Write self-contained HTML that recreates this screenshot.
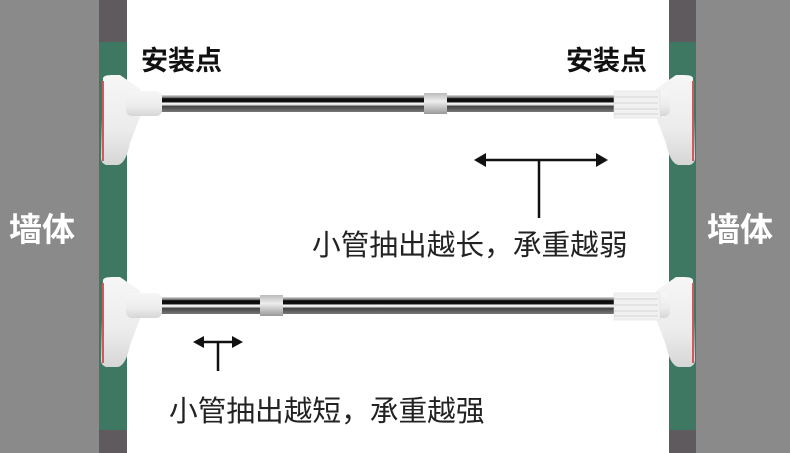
<!DOCTYPE html>
<html><head><meta charset="utf-8"><style>
html,body{margin:0;padding:0;background:#fff;}
svg{display:block}
text{font-family:"Liberation Sans","Noto Sans CJK SC",sans-serif;}
</style></head><body>
<svg width="790" height="453" viewBox="0 0 790 453" xmlns="http://www.w3.org/2000/svg">
<defs>
<linearGradient id="pipe" x1="0" y1="0" x2="0" y2="1">
<stop offset="0" stop-color="#e0e0e0"/><stop offset="0.15" stop-color="#777"/>
<stop offset="0.22" stop-color="#0a0a0a"/><stop offset="0.4" stop-color="#111"/>
<stop offset="0.48" stop-color="#fafafa"/><stop offset="0.58" stop-color="#ddd"/>
<stop offset="0.66" stop-color="#444"/><stop offset="1" stop-color="#777"/>
</linearGradient>
<linearGradient id="joint" x1="0" y1="0" x2="0" y2="1">
<stop offset="0" stop-color="#bbb"/><stop offset="0.4" stop-color="#eee"/><stop offset="1" stop-color="#999"/>
</linearGradient>
<linearGradient id="white" x1="0" y1="0" x2="0" y2="1">
<stop offset="0" stop-color="#f6f6f6"/><stop offset="0.6" stop-color="#ececec"/><stop offset="1" stop-color="#d6d6d6"/>
</linearGradient>
<g id="lfoot">
<path d="M103 -25 Q104 -28 112 -28 L120 -28 L140 -14 L140 14 L130 40 Q126 60 118 62 L106 62 Q101 60 101 55 Z" fill="url(#white)"/>
<path d="M102 -22 L104 -22 L104 58 L102 58 Z" fill="#d05a5a"/>
<rect x="126" y="-12" width="36" height="25" rx="6" fill="url(#white)"/>
</g>
</defs>
<rect x="0" y="0" width="99" height="453" fill="#8a8a8a"/>
<rect x="696" y="0" width="94" height="453" fill="#8a8a8a"/>
<rect x="99" y="0" width="28" height="453" fill="#3e7862"/>
<rect x="669" y="0" width="27" height="453" fill="#3e7862"/>
<rect x="99" y="0" width="28" height="42" fill="#5e5a5e"/>
<rect x="669" y="0" width="27" height="42" fill="#5e5a5e"/>
<rect x="99" y="430" width="28" height="23" fill="#5e5a5e"/>
<rect x="669" y="430" width="27" height="23" fill="#5e5a5e"/>

<rect x="158" y="95" width="460" height="17" fill="url(#pipe)"/>
<rect x="424" y="93" width="23" height="21" fill="url(#joint)"/>
<use href="#lfoot" transform="translate(0,103)"/>
<g transform="translate(796,103) scale(-1,1)"><use href="#lfoot"/></g>
<rect x="614" y="91" width="46" height="27" fill="#f1f1f1" stroke="#ddd" stroke-width="0.5"/>
<g stroke="#d4d4d4" stroke-width="1"><line x1="614" y1="97" x2="658" y2="97"/><line x1="614" y1="103" x2="658" y2="103"/><line x1="614" y1="109" x2="658" y2="109"/><line x1="614" y1="114" x2="658" y2="114"/></g>

<rect x="158" y="297" width="460" height="17" fill="url(#pipe)"/>
<rect x="260" y="295" width="23" height="21" fill="url(#joint)"/>
<use href="#lfoot" transform="translate(0,305)"/>
<g transform="translate(796,305) scale(-1,1)"><use href="#lfoot"/></g>
<rect x="614" y="293" width="46" height="27" fill="#f1f1f1" stroke="#ddd" stroke-width="0.5"/>
<g stroke="#d4d4d4" stroke-width="1"><line x1="614" y1="299" x2="658" y2="299"/><line x1="614" y1="305" x2="658" y2="305"/><line x1="614" y1="311" x2="658" y2="311"/><line x1="614" y1="316" x2="658" y2="316"/></g>

<g stroke="#111" stroke-width="2.5" fill="none">
<line x1="482" y1="160" x2="600" y2="160"/><line x1="539" y1="160" x2="539" y2="218"/>
<line x1="200" y1="342" x2="236" y2="342"/><line x1="218" y1="342" x2="218" y2="371"/>
</g>
<g fill="#111">
<path d="M474 160 L486 153 L486 167 Z"/><path d="M608 160 L596 153 L596 167 Z"/>
<path d="M193 342 L204 336 L204 348 Z"/><path d="M243 342 L232 336 L232 348 Z"/>
</g>

<text x="141" y="70" font-size="27" font-weight="bold" fill="#111">安装点</text>
<text x="566" y="70" font-size="27" font-weight="bold" fill="#111">安装点</text>
<text x="9" y="241" font-size="33" font-weight="bold" fill="#fff">墙体</text>
<text x="707" y="241" font-size="33" font-weight="bold" fill="#fff">墙体</text>
<text x="312" y="255" font-size="28.7" fill="#222">小管抽出越长，承重越弱</text>
<text x="169" y="421" font-size="28.7" fill="#222">小管抽出越短，承重越强</text>
</svg>
</body></html>
